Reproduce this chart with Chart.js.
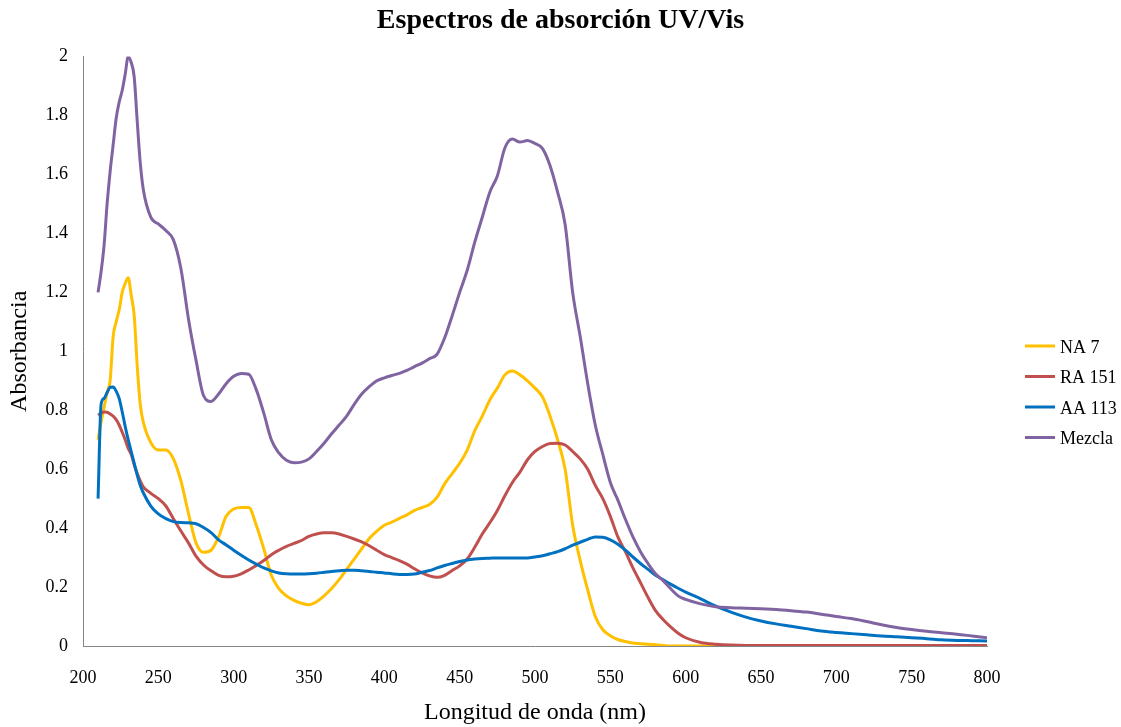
<!DOCTYPE html>
<html>
<head>
<meta charset="utf-8">
<script src="https://cdn.jsdelivr.net/npm/chart.js@4/dist/chart.umd.min.js"></script>
<style>
  html, body { margin:0; padding:0; background:#fff; }
  #wrap { width:1121px; height:727px; }
</style>
</head>
<body>
<div id="wrap"><canvas id="ch" width="1121" height="727"></canvas></div>
<script>
// wavelengths (nm) shared by every series
const wavelength = [
  210,212,214,216,218,220,222,224,226,228,230,232,234,236,238,240,
  245,250,255,260,265,270,275,280,285,290,295,300,305,310,315,320,325,330,335,340,
  345,350,355,360,365,370,375,380,385,390,395,400,
  405,410,415,420,425,430,435,440,445,450,455,460,465,470,475,480,485,490,495,500,
  505,510,515,520,525,530,535,540,545,550,555,560,565,570,575,580,585,590,595,600,
  610,620,630,640,650,660,670,680,690,700,710,720,730,740,750,760,770,780,790,800
];

const na7 = [
  0.70,0.76,0.81,0.86,0.90,1.05,1.10,1.14,1.20,1.23,1.25,1.19,1.12,0.95,0.82,0.76,
  0.69,0.665,0.665,0.635,0.56,0.45,0.35,0.318,0.325,0.37,0.44,0.465,0.47,0.47,0.41,0.33,0.24,0.195,0.17,0.155,
  0.145,0.14,0.15,0.17,0.195,0.225,0.26,0.295,0.33,0.365,0.39,0.41,
  0.42,0.433,0.445,0.46,0.47,0.48,0.505,0.55,0.585,0.62,0.665,0.73,0.78,0.835,0.875,0.92,0.933,0.92,0.90,0.875,
  0.845,0.78,0.70,0.60,0.41,0.29,0.19,0.10,0.055,0.035,0.022,0.015,0.01,0.008,0.006,0.004,0.002,0,0,0,
  0,0,0,0,0,0,0,0,0,0,0,0,0,0,0,0,0,0,0,0
];

const ra151 = [
  0.783,0.79,0.794,0.793,0.787,0.78,0.768,0.75,0.726,0.70,0.67,0.65,0.615,0.585,0.56,0.54,
  0.518,0.50,0.475,0.432,0.39,0.35,0.305,0.275,0.255,0.24,0.235,0.237,0.245,0.258,0.273,0.29,0.31,0.325,0.338,0.348,
  0.358,0.372,0.38,0.384,0.384,0.38,0.372,0.363,0.353,0.34,0.325,0.31,
  0.30,0.29,0.278,0.262,0.248,0.238,0.233,0.24,0.256,0.272,0.295,0.335,0.38,0.418,0.46,0.51,0.555,0.59,0.632,0.66,
  0.677,0.687,0.688,0.682,0.66,0.635,0.60,0.545,0.50,0.44,0.37,0.32,0.265,0.215,0.165,0.12,0.09,0.065,0.043,0.028,
  0.012,0.006,0.003,0.002,0.002,0.002,0.002,0.002,0.002,0.002,0.002,0.002,0.002,0.002,0.002,0.002,0.002,0.002,0.002,0.002
];

const aa113 = [
  0.50,0.82,0.84,0.86,0.878,0.879,0.865,0.84,0.795,0.745,0.70,0.66,0.62,0.58,0.545,0.52,
  0.475,0.448,0.432,0.422,0.419,0.418,0.415,0.402,0.385,0.36,0.343,0.325,0.308,0.292,0.278,0.265,0.255,0.248,0.245,0.244,
  0.244,0.245,0.247,0.25,0.253,0.255,0.257,0.257,0.255,0.253,0.25,0.248,
  0.245,0.243,0.243,0.244,0.25,0.256,0.265,0.273,0.28,0.287,0.292,0.295,0.297,0.298,0.299,0.299,0.299,0.299,0.299,0.302,
  0.306,0.313,0.32,0.33,0.342,0.352,0.362,0.37,0.369,0.36,0.345,0.325,0.302,0.28,0.26,0.24,0.225,0.21,0.196,0.183,
  0.16,0.135,0.115,0.098,0.085,0.075,0.067,0.059,0.051,0.046,0.042,0.038,0.034,0.031,0.028,0.025,0.021,0.019,0.018,0.017
];

const mezcla = [
  1.20,1.27,1.36,1.50,1.61,1.70,1.79,1.845,1.885,1.94,2.00,1.98,1.93,1.78,1.64,1.55,
  1.455,1.432,1.41,1.378,1.28,1.11,0.97,0.85,0.83,0.855,0.89,0.915,0.925,0.922,0.87,0.79,0.70,0.655,0.63,0.622,
  0.624,0.635,0.66,0.688,0.72,0.75,0.78,0.82,0.855,0.88,0.90,0.91,
  0.918,0.925,0.935,0.948,0.96,0.975,0.99,1.045,1.12,1.20,1.275,1.37,1.455,1.54,1.595,1.69,1.72,1.71,1.715,1.705,
  1.688,1.63,1.54,1.43,1.20,1.05,0.89,0.75,0.65,0.555,0.495,0.43,0.37,0.32,0.28,0.245,0.222,0.195,0.17,0.158,
  0.143,0.133,0.13,0.128,0.126,0.124,0.12,0.115,0.108,0.10,0.093,0.083,0.072,0.063,0.056,0.05,0.045,0.04,0.034,0.028
];

const seriesNames = ['NA 7', 'RA 151', 'AA 113', 'Mezcla'];
const seriesValues = [na7, ra151, aa113, mezcla];
const seriesColors = ['#FFC000', '#C0504D', '#0070C0', '#8064A2'];

const FONT = '"Liberation Serif", "Times New Roman", serif';

// legend drawn at the right, like the original
const sideLegend = {
  id: 'sideLegend',
  afterDraw(chart) {
    const ctx = chart.ctx;
    ctx.save();
    ctx.font = '18px ' + FONT;
    ctx.textBaseline = 'middle';
    ctx.fillStyle = '#000';
    chart.data.datasets.forEach((ds, i) => {
      const y = 346 + i * 30.5;
      ctx.strokeStyle = ds.borderColor;
      ctx.lineWidth = 3;
      ctx.beginPath();
      ctx.moveTo(1025, y);
      ctx.lineTo(1055, y);
      ctx.stroke();
      ctx.fillText(ds.label, 1060, y + 2);
    });
    ctx.restore();
  }
};

new Chart(document.getElementById('ch').getContext('2d'), {
  type: 'line',
  data: {
    datasets: seriesNames.map((name, i) => ({
      label: name,
      data: wavelength.map((w, j) => ({ x: w, y: seriesValues[i][j] })),
      borderColor: seriesColors[i],
      backgroundColor: seriesColors[i],
      borderWidth: 3,
      pointRadius: 0,
      cubicInterpolationMode: 'monotone',
      order: seriesNames.length - i
    }))
  },
  options: {
    responsive: false,
    animation: false,
    layout: { padding: 0 },
    plugins: {
      legend: { display: false },
      tooltip: { enabled: false },
      title: {
        display: true,
        text: 'Espectros de absorción UV/Vis',
        color: '#000',
        font: { family: FONT, size: 28, weight: 'bold' },
        padding: { top: 4, bottom: 19 }
      }
    },
    scales: {
      x: {
        type: 'linear',
        min: 200, max: 800,
        grid: { display: false, drawTicks: false },
        border: { display: true, color: '#868686', width: 1 },
        ticks: { stepSize: 50, color: '#000', font: { family: FONT, size: 18 }, padding: 21, maxRotation: 0 },
        title: { display: true, text: 'Longitud de onda (nm)', color: '#000', font: { family: FONT, size: 24 }, padding: { top: 0, bottom: 0 } },
        afterFit(scale) { scale.height = 81; }
      },
      y: {
        min: 0, max: 2,
        grid: { display: false, drawTicks: false },
        border: { display: true, color: '#868686', width: 1 },
        ticks: { stepSize: 0.2, color: '#000', font: { family: FONT, size: 18 }, padding: 15,
                 callback: v => String(+v.toFixed(1)) },
        title: { display: true, text: 'Absorbancia', color: '#000', font: { family: FONT, size: 24 }, padding: { top: 5, bottom: 0 } },
        afterFit(scale) { scale.width = 83; }
      },
      // empty right-hand strip that leaves room for the legend
      side: {
        type: 'linear',
        position: 'right',
        grid: { display: false, drawTicks: false },
        border: { display: false },
        ticks: { display: false },
        afterFit(scale) { scale.width = 134; }
      }
    }
  },
  plugins: [sideLegend]
});
</script>
</body>
</html>
